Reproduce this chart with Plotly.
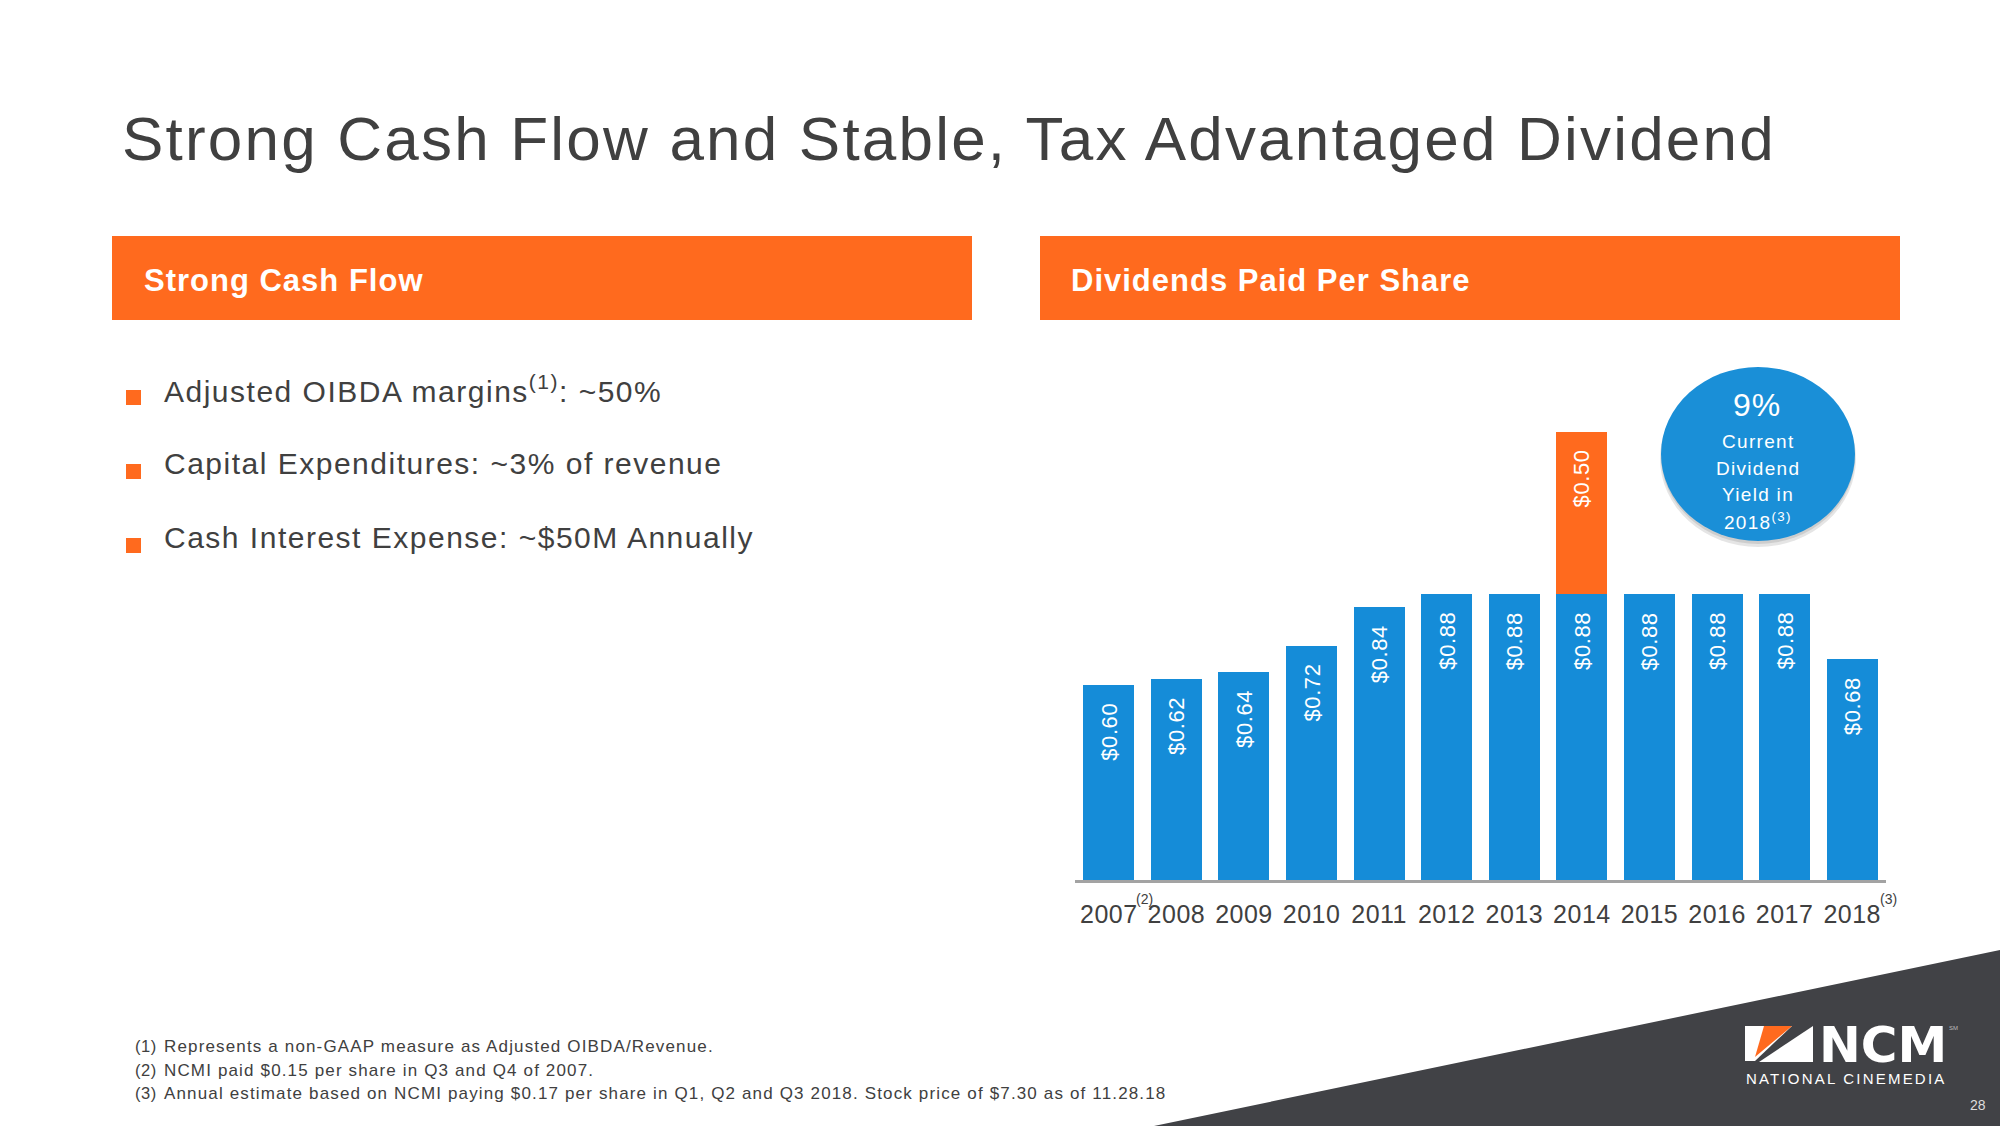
import plotly.graph_objects as go

W, H = 2000, 1126

# ---------------- data ----------------
years = ["2007", "2008", "2009", "2010", "2011", "2012",
         "2013", "2014", "2015", "2016", "2017", "2018"]
regular_dividend = [0.60, 0.62, 0.64, 0.72, 0.84, 0.88,
                    0.88, 0.88, 0.88, 0.88, 0.88, 0.68]
special_dividend = [None, None, None, None, None, None,
                    None, 0.50, None, None, None, None]
regular_labels = ["$0.60", "$0.62", "$0.64", "$0.72", "$0.84", "$0.88",
                  "$0.88", "$0.88", "$0.88", "$0.88", "$0.88", "$0.68"]
special_labels = [None, None, None, None, None, None,
                  None, "$0.50", None, None, None, None]
tick_notes = {"2007": "(2)", "2018": "(3)"}

title_text = "Strong Cash Flow and Stable, Tax Advantaged Dividend"
left_header = "Strong Cash Flow"
right_header = "Dividends Paid Per Share"
bullets = ["Adjusted OIBDA margins<sup>(1)</sup>: ~50%",
           "Capital Expenditures: ~3% of revenue",
           "Cash Interest Expense: ~$50M Annually"]
footnote_nums = ["(1)", "(2)", "(3)"]
footnotes = ["Represents a non-GAAP measure as Adjusted OIBDA/Revenue.",
             "NCMI paid $0.15 per share in Q3 and Q4 of 2007.",
             "Annual estimate based on NCMI paying $0.17 per share in Q1, Q2 and Q3 2018. Stock price of $7.30 as of 11.28.18"]
yield_big = "9%"
yield_lines = ["Current", "Dividend", "Yield in", "2018<sup>(3)</sup>"]

# ---------------- style ----------------
SANS = "Liberation Sans, Arial, sans-serif"
WIDE = "DejaVu Sans, Liberation Sans, sans-serif"
ORANGE = "#FF6A1E"
BLUE = "#158CD8"
CIRCLE = "#1A8FD7"
DARK = "#404040"
SLATE = "#414246"


def px(x):
    return x / W


def py(y):
    return 1 - y / H


def ls(text, sp):
    if sp == 0:
        return text
    return '<span style="letter-spacing:%spx">%s</span>' % (sp, text)


idx = list(range(len(years)))

fig = go.Figure()
fig.add_trace(go.Bar(x=idx, y=regular_dividend, marker=dict(color=BLUE, line=dict(width=0)),
                     hoverinfo="skip"))
fig.add_trace(go.Bar(x=idx, y=special_dividend, marker=dict(color=ORANGE, line=dict(width=0)),
                     hoverinfo="skip"))

annotations = []
# bar value labels (data coordinates)
for i, v, lab in zip(idx, regular_dividend, regular_labels):
    annotations.append(dict(x=i, y=v, xref="x", yref="y", text=ls(lab, 0.6), textangle=-90,
                            showarrow=False, xanchor="center", yanchor="top", yshift=-16,
                            font=dict(family=SANS, size=22, color="white")))
for i, v, s, lab in zip(idx, regular_dividend, special_dividend, special_labels):
    if s is not None:
        annotations.append(dict(x=i, y=v + s, xref="x", yref="y", text=ls(lab, 0.6), textangle=-90,
                                showarrow=False, xanchor="center", yanchor="top", yshift=-16,
                                font=dict(family=SANS, size=22, color="white")))
# tick superscripts
for yr, note in tick_notes.items():
    annotations.append(dict(x=years.index(yr), y=py(899), xref="x", yref="paper", text=note,
                            showarrow=False, xanchor="center", yanchor="middle", xshift=36,
                            font=dict(family=SANS, size=14, color=DARK)))

# title
annotations.append(dict(x=px(120), y=py(138), xref="paper", yref="paper", text=ls(title_text, 2.2),
                        showarrow=False, xanchor="left", yanchor="middle",
                        font=dict(family=SANS, size=62, color=DARK)))
# headers
for xh, t in [(142, left_header), (1069, right_header)]:
    annotations.append(dict(x=px(xh), y=py(280), xref="paper", yref="paper", text=ls("<b>%s</b>" % t, 1.0),
                            showarrow=False, xanchor="left", yanchor="middle",
                            font=dict(family=SANS, size=31, color="white")))
# bullets
bullet_y = [389, 463, 537]
for t, yb in zip(bullets, bullet_y):
    annotations.append(dict(x=px(162), y=py(yb), xref="paper", yref="paper", text=ls(t, 1.5),
                            showarrow=False, xanchor="left", yanchor="middle",
                            font=dict(family=SANS, size=30, color=DARK)))
# footnotes
foot_y = [1046, 1070, 1093]
for n, t, yf in zip(footnote_nums, footnotes, foot_y):
    annotations.append(dict(x=px(133), y=py(yf), xref="paper", yref="paper", text=ls(n, 0.5),
                            showarrow=False, xanchor="left", yanchor="middle",
                            font=dict(family=SANS, size=16.5, color=DARK)))
    annotations.append(dict(x=px(162), y=py(yf), xref="paper", yref="paper", text=ls(t, 1.15),
                            showarrow=False, xanchor="left", yanchor="middle",
                            font=dict(family=SANS, size=17, color=DARK)))
# circle text
annotations.append(dict(x=px(1757), y=py(405), xref="paper", yref="paper", text=ls(yield_big, 1),
                        showarrow=False, xanchor="center", yanchor="middle",
                        font=dict(family=SANS, size=32, color="white")))
for t, yc in zip(yield_lines, [442, 468, 494, 521]):
    annotations.append(dict(x=px(1758), y=py(yc), xref="paper", yref="paper", text=ls(t, 1.3),
                            showarrow=False, xanchor="center", yanchor="middle",
                            font=dict(family=SANS, size=19, color="white")))
# logo text
annotations.append(dict(x=px(1883), y=py(1045), xref="paper", yref="paper", text="<b>NCM</b>",
                        showarrow=False, xanchor="center", yanchor="middle",
                        font=dict(family=WIDE, size=50, color="white")))
annotations.append(dict(x=px(1953), y=py(1028), xref="paper", yref="paper", text="SM",
                        showarrow=False, xanchor="center", yanchor="middle",
                        font=dict(family=SANS, size=6, color="#BBBBBB")))
annotations.append(dict(x=px(1846), y=py(1078), xref="paper", yref="paper", text=ls("NATIONAL CINEMEDIA", 2.2),
                        showarrow=False, xanchor="center", yanchor="middle",
                        font=dict(family=SANS, size=15, color="white")))
annotations.append(dict(x=px(1978), y=py(1105), xref="paper", yref="paper", text="28",
                        showarrow=False, xanchor="center", yanchor="middle",
                        font=dict(family=SANS, size=14, color="#DDDDDD")))


def path(points):
    return "M " + " L ".join("%f,%f" % (px(a), py(b)) for a, b in points) + " Z"


shapes = [
    # header boxes
    dict(type="rect", xref="paper", yref="paper", x0=px(112), x1=px(972), y0=py(320), y1=py(236),
         fillcolor=ORANGE, line=dict(width=0), layer="below"),
    dict(type="rect", xref="paper", yref="paper", x0=px(1040), x1=px(1900), y0=py(320), y1=py(236),
         fillcolor=ORANGE, line=dict(width=0), layer="below"),
    # dark corner
    dict(type="path", xref="paper", yref="paper", path=path([(1154, 1126), (2000, 950), (2000, 1126)]),
         fillcolor=SLATE, line=dict(width=0), layer="below"),
    # logo icon
    dict(type="path", xref="paper", yref="paper",
         path=path([(1745, 1026), (1792, 1026), (1755, 1061), (1745, 1061)]),
         fillcolor="white", line=dict(width=0)),
    dict(type="path", xref="paper", yref="paper",
         path=path([(1764, 1026), (1792, 1026), (1755, 1057)]),
         fillcolor=ORANGE, line=dict(width=0)),
    dict(type="path", xref="paper", yref="paper",
         path=path([(1813, 1026), (1813, 1062), (1759, 1062)]),
         fillcolor="white", line=dict(width=0)),
    # circle shadow + circle
    dict(type="circle", xref="paper", yref="paper", x0=px(1660), x1=px(1856), y0=py(547), y1=py(370),
         fillcolor="rgba(0,0,0,0.10)", line=dict(width=0)),
    dict(type="circle", xref="paper", yref="paper", x0=px(1661), x1=px(1855), y0=py(544), y1=py(368),
         fillcolor="rgba(0,0,0,0.10)", line=dict(width=0)),
    dict(type="circle", xref="paper", yref="paper", x0=px(1661), x1=px(1855), y0=py(541), y1=py(367),
         fillcolor=CIRCLE, line=dict(width=0)),
]
# bullet squares
for yb in bullet_y:
    shapes.append(dict(type="rect", xref="paper", yref="paper", x0=px(126), x1=px(141),
                       y0=py(yb + 16), y1=py(yb + 1), fillcolor=ORANGE, line=dict(width=0)))

fig.update_layout(
    width=W, height=H,
    margin=dict(l=0, r=0, t=0, b=0, autoexpand=False),
    paper_bgcolor="white", plot_bgcolor="white",
    barmode="stack", bargap=0.245,
    showlegend=False, hovermode=False,
    annotations=annotations, shapes=shapes,
    xaxis=dict(domain=[px(1075), px(1886)], range=[-0.5, len(years) - 0.5], autorange=False,
               tickmode="array", tickvals=idx, ticktext=[ls(y, 0.5) for y in years], tickangle=0,
               showline=True, linecolor="#A3A3A3", linewidth=2.5, ticks="",
               showgrid=False, zeroline=False, ticklabelstandoff=10, automargin=False,
               tickfont=dict(family=SANS, size=25, color=DARK), fixedrange=True),
    yaxis=dict(domain=[py(880), py(392.5)], range=[0, 1.5], autorange=False, visible=False,
               fixedrange=True, automargin=False),
)

fig.write_html("out.html", config={"displayModeBar": False})
